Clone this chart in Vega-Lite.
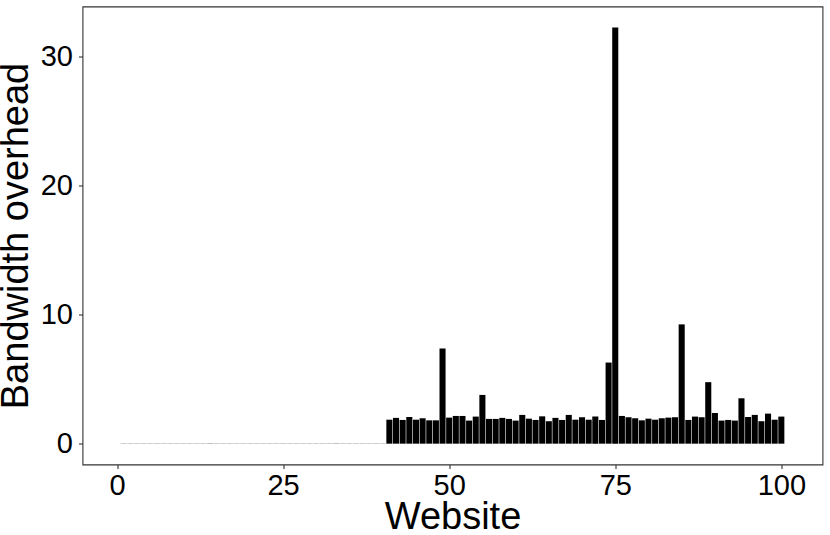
{
  "$schema": "https://vega.github.io/schema/vega-lite/v6.json",
  "width": 740,
  "height": 458,
  "autosize": {"type": "none"},
  "padding": {"left": 82.5, "top": 6.5, "right": 7.5, "bottom": 70.5},
  "background": "white",
  "config": {
    "font": "Liberation Sans",
    "view": {"stroke": "#333333", "strokeWidth": 1.1},
    "axis": {
      "grid": false,
      "domain": false,
      "tickColor": "#333333",
      "tickSize": 4,
      "tickWidth": 1.1,
      "labelColor": "#000000",
      "labelFontSize": 29,
      "titleFontSize": 38,
      "titleFontWeight": "normal",
      "titleColor": "#000000"
    }
  },
  "data": {
    "values": [
      {"website": 1, "overhead": 0.015}, {"website": 2, "overhead": 0.015}, {"website": 3, "overhead": 0.015}, {"website": 4, "overhead": 0.015}, {"website": 5, "overhead": 0.015},
      {"website": 6, "overhead": 0.015}, {"website": 7, "overhead": 0.015}, {"website": 8, "overhead": 0.015}, {"website": 9, "overhead": 0.015}, {"website": 10, "overhead": 0.015},
      {"website": 11, "overhead": 0.015}, {"website": 12, "overhead": 0.015}, {"website": 13, "overhead": 0.015}, {"website": 14, "overhead": 0.015}, {"website": 15, "overhead": 0.015},
      {"website": 16, "overhead": 0.015}, {"website": 17, "overhead": 0.015}, {"website": 18, "overhead": 0.015}, {"website": 19, "overhead": 0.015}, {"website": 20, "overhead": 0.015},
      {"website": 21, "overhead": 0.015}, {"website": 22, "overhead": 0.015}, {"website": 23, "overhead": 0.015}, {"website": 24, "overhead": 0.015}, {"website": 25, "overhead": 0.015},
      {"website": 26, "overhead": 0.015}, {"website": 27, "overhead": 0.015}, {"website": 28, "overhead": 0.015}, {"website": 29, "overhead": 0.015}, {"website": 30, "overhead": 0.015},
      {"website": 31, "overhead": 0.015}, {"website": 32, "overhead": 0.015}, {"website": 33, "overhead": 0.015}, {"website": 34, "overhead": 0.015}, {"website": 35, "overhead": 0.015},
      {"website": 36, "overhead": 0.015}, {"website": 37, "overhead": 0.015}, {"website": 38, "overhead": 0.015}, {"website": 39, "overhead": 0.015}, {"website": 40, "overhead": 0.015},
      {"website": 41, "overhead": 1.86}, {"website": 42, "overhead": 2.0}, {"website": 43, "overhead": 1.84}, {"website": 44, "overhead": 2.07}, {"website": 45, "overhead": 1.86},
      {"website": 46, "overhead": 1.97}, {"website": 47, "overhead": 1.81}, {"website": 48, "overhead": 1.81}, {"website": 49, "overhead": 7.38}, {"website": 50, "overhead": 2.02},
      {"website": 51, "overhead": 2.15}, {"website": 52, "overhead": 2.15}, {"website": 53, "overhead": 1.79}, {"website": 54, "overhead": 2.1}, {"website": 55, "overhead": 3.78},
      {"website": 56, "overhead": 1.92}, {"website": 57, "overhead": 1.92}, {"website": 58, "overhead": 2.0}, {"website": 59, "overhead": 1.92}, {"website": 60, "overhead": 1.79},
      {"website": 61, "overhead": 2.23}, {"website": 62, "overhead": 1.94}, {"website": 63, "overhead": 1.84}, {"website": 64, "overhead": 2.12}, {"website": 65, "overhead": 1.74},
      {"website": 66, "overhead": 2.0}, {"website": 67, "overhead": 1.84}, {"website": 68, "overhead": 2.23}, {"website": 69, "overhead": 1.86}, {"website": 70, "overhead": 2.05},
      {"website": 71, "overhead": 1.86}, {"website": 72, "overhead": 2.1}, {"website": 73, "overhead": 1.84}, {"website": 74, "overhead": 6.29}, {"website": 75, "overhead": 32.27},
      {"website": 76, "overhead": 2.15}, {"website": 77, "overhead": 2.05}, {"website": 78, "overhead": 1.97}, {"website": 79, "overhead": 1.81}, {"website": 80, "overhead": 1.94},
      {"website": 81, "overhead": 1.86}, {"website": 82, "overhead": 1.97}, {"website": 83, "overhead": 2.02}, {"website": 84, "overhead": 2.05}, {"website": 85, "overhead": 9.25},
      {"website": 86, "overhead": 1.84}, {"website": 87, "overhead": 2.1}, {"website": 88, "overhead": 2.05}, {"website": 89, "overhead": 4.77}, {"website": 90, "overhead": 2.38},
      {"website": 91, "overhead": 1.79}, {"website": 92, "overhead": 1.84}, {"website": 93, "overhead": 1.79}, {"website": 94, "overhead": 3.52}, {"website": 95, "overhead": 2.07},
      {"website": 96, "overhead": 2.23}, {"website": 97, "overhead": 1.74}, {"website": 98, "overhead": 2.33}, {"website": 99, "overhead": 1.86}, {"website": 100, "overhead": 2.1}
    ]
  },
  "mark": {"type": "bar", "color": "#000000", "width": 6.07},
  "encoding": {
    "x": {
      "field": "website",
      "type": "quantitative",
      "title": "Website",
      "scale": {"domain": [-4.445, 105.445], "nice": false, "zero": false},
      "axis": {"values": [0, 25, 50, 75, 100], "labelPadding": 3, "titlePadding": -2, "labelFlush": false}
    },
    "y": {
      "field": "overhead",
      "type": "quantitative",
      "title": "Bandwidth overhead",
      "scale": {"domain": [-1.615, 33.9], "nice": false, "zero": false},
      "axis": {"values": [0, 10, 20, 30], "labelPadding": 6, "titlePadding": 5, "labelFlush": false}
    }
  }
}
